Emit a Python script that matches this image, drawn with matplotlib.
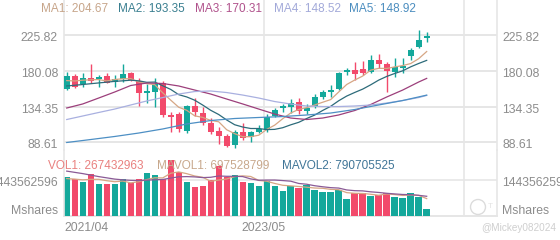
import matplotlib.pyplot as plt
from matplotlib.transforms import offset_copy
from matplotlib.patches import Ellipse

plt.rcParams['font.family'] = ['Liberation Sans', 'DejaVu Sans']

# monthly candles
opens = [156.3, 173.7, 162.7, 171.2, 169.5, 173.7, 165.3, 169.1, 177.6, 167.0,
         151.2, 153.3, 164.0, 122.9, 124.7, 103.0, 135.0, 125.6, 113.2, 103.0,
         96.6, 85.7, 101.7, 94.7, 102.1, 104.9, 122.2, 132.8, 134.1, 139.7,
         128.6, 135.0, 146.9, 152.5, 156.7, 178.1, 181.0, 182.3, 178.9, 193.8,
         188.3, 178.9, 184.0, 199.3, 210.9, 222.4]
highs = [178.9, 175.5, 176.8, 188.7, 175.0, 177.6, 174.2, 188.7, 178.5, 171.2,
         163.1, 170.4, 167.6, 126.7, 127.7, 136.9, 145.8, 134.1, 119.6, 108.5,
         99.2, 104.3, 113.2, 103.6, 110.7, 124.7, 132.0, 137.1, 143.9, 145.6,
         137.5, 149.9, 155.4, 161.8, 178.9, 184.0, 190.9, 192.6, 200.2, 201.1,
         190.9, 196.0, 196.0, 208.8, 232.2, 230.0]
lows = [155.0, 157.6, 158.9, 164.0, 159.7, 164.0, 159.7, 165.3, 167.0, 135.0,
        138.4, 133.7, 121.3, 101.7, 102.1, 100.4, 122.8, 110.7, 99.2, 87.0,
        81.9, 81.2, 92.1, 88.3, 100.0, 102.3, 120.3, 126.9, 125.6, 124.4,
        124.7, 132.8, 143.9, 146.9, 155.4, 174.6, 168.2, 174.6, 176.8, 183.2,
        153.3, 172.5, 176.8, 193.8, 208.8, 217.2]
closes = [173.4, 159.7, 171.2, 167.0, 172.5, 164.8, 169.1, 175.5, 168.2, 151.0,
          154.2, 162.7, 123.5, 120.9, 105.5, 135.0, 127.3, 113.2, 102.1, 96.6,
          83.8, 102.1, 94.0, 102.1, 105.8, 120.9, 129.9, 135.0, 138.4, 128.6,
          132.8, 146.9, 152.5, 155.4, 176.8, 181.0, 175.5, 177.6, 193.8, 188.3,
          179.8, 185.3, 186.5, 206.6, 219.4, 224.5]
# volume in millions of shares
volumes = [1552, 1496, 1363, 1672, 1271, 1271, 1295, 1496, 1311, 1496,
           1712, 1644, 1472, 2246, 1764, 1363, 1175, 1215, 1444, 2017,
           1576, 1644, 1363, 1323, 1223, 1415, 1203, 1002, 1191, 1111,
           1263, 1043, 946, 970, 1055, 670, 910, 910, 814, 854,
           942, 774, 734, 910, 774, 267.4]

ma1 = [167.5, 167.0, 168.0, 168.5, 168.8, 167.0, 168.9, 169.8, 170.0, 165.7,
       163.6, 162.3, 151.9, 142.5, 133.4, 129.5, 122.4, 120.4, 116.6, 114.8,
       104.6, 99.6, 95.7, 95.7, 97.6, 105.0, 110.5, 118.7, 126.0, 130.6,
       132.9, 136.3, 139.8, 143.2, 152.9, 162.5, 168.2, 173.3, 180.9, 183.2,
       183.0, 185.0, 186.7, 189.3, 195.5, 204.67]
ma2 = [160.6, 161.5, 162.5, 163.5, 164.5, 165.5, 166.5, 167.2, 168.0, 167.2,
       165.3, 165.6, 160.9, 156.2, 149.5, 146.6, 142.4, 136.2, 129.5, 124.1,
       117.1, 111.0, 108.1, 106.2, 106.2, 104.8, 105.1, 107.2, 110.9, 114.1,
       119.0, 123.4, 129.3, 134.6, 141.7, 147.7, 152.3, 156.6, 162.1, 168.1,
       172.8, 176.6, 180.0, 185.1, 189.4, 193.35]
ma34_idx = [0, 2, 4, 6, 8, 10, 12, 14, 16, 18, 20, 22, 24, 26, 28, 30, 32,
            34, 36, 38, 40, 42, 44, 45]
ma3 = [132.4, 137.6, 145.2, 152.9, 161.2, 164.4, 163.8, 160.6, 155.4, 150.3,
       143.9, 137.6, 131.1, 124.7, 119.6, 117.7, 119.6, 123.5, 129.2, 136.9,
       146.5, 155.4, 165.7, 170.31]
ma4 = [117.7, 122.2, 126.7, 131.1, 136.3, 141.4, 145.8, 150.3, 153.5, 154.2,
       152.2, 149.0, 145.2, 140.7, 137.5, 135.0, 134.3, 134.3, 135.0, 136.3,
       138.8, 142.0, 145.8, 148.52]
ma5_idx = [0, 3, 6, 9, 12, 15, 18, 21, 24, 27, 30, 33, 36, 39, 42, 45]
ma5 = [88.3, 92.1, 96.0, 100.4, 105.6, 112.0, 116.4, 119.0, 120.3, 121.5,
       123.5, 126.0, 130.5, 136.3, 142.0, 148.92]

mavol1 = [1500, 1480, 1450, 1470, 1471, 1415, 1374, 1401, 1329, 1374,
          1462, 1532, 1527, 1714, 1768, 1698, 1604, 1553, 1392, 1443,
          1485, 1579, 1609, 1585, 1426, 1394, 1305, 1233, 1207, 1184,
          1154, 1122, 1111, 1067, 1055, 937, 910, 903, 872, 832,
          886, 859, 824, 843, 827, 697.5]
mavol2 = [1800, 1750, 1700, 1640, 1580, 1530, 1480, 1450, 1430, 1422,
          1438, 1453, 1464, 1521, 1571, 1580, 1568, 1540, 1553, 1605,
          1592, 1592, 1581, 1488, 1434, 1440, 1442, 1421, 1396, 1305,
          1274, 1214, 1172, 1137, 1120, 1045, 1016, 1007, 969, 944,
          911, 885, 863, 857, 829, 790.7]

price_ticks = [225.82, 180.08, 134.35, 88.61]
vol_tick = 1443562596
date_pos = [-0.34, 24.66]
date_labels = ['2021/04', '2023/05']
legend_top = [('MA1: 204.67', '#c7a58a', 41), ('MA2: 193.35', '#3a7f90', 118),
              ('MA3: 170.31', '#b0528c', 195), ('MA4: 148.52', '#a2a9d9', 274),
              ('MA5: 148.92', '#4b8dbf', 349)]
legend_vol = [('VOL1: 267432963', '#e9807f', 48), ('MAVOL1: 697528799', '#c8a88c', 157),
              ('MAVOL2: 790705525', '#3f7597', 282)]

UP = '#14a89b'
DOWN = '#f24a6b'
GRID = '#e6e6e6'
LABEL = '#8c8c8c'
W, H = 560, 240

fig = plt.figure(figsize=(5.6, 2.4), dpi=100)


def box(x0, y0, x1, y1):
    return [x0 / W, 1 - y1 / H, (x1 - x0) / W, (y1 - y0) / H]


ax = fig.add_axes(box(64, 0, 497, 150))
axv = fig.add_axes(box(64, 150, 497, 216))

n = len(closes)
xs = list(range(n))
colors = [UP if c >= o else DOWN for o, c in zip(opens, closes)]

# candles
ax.vlines(xs, lows, highs, colors=colors, lw=1, zorder=2)
bottoms = [min(o, c) for o, c in zip(opens, closes)]
heights = [max(abs(c - o), 1.2) for o, c in zip(opens, closes)]
ax.bar(xs, heights, bottom=bottoms, width=0.75, color=colors, zorder=3)

ax.plot(xs, ma1, color='#d6a684', lw=0.9, zorder=4)
ax.plot(xs, ma2, color='#2d6b7a', lw=0.9, zorder=4)
ax.plot(ma34_idx, ma3, color='#9c3f7b', lw=0.9, zorder=4)
ax.plot(ma34_idx, ma4, color='#a9b0e0', lw=0.9, zorder=4)
ax.plot(ma5_idx, ma5, color='#4d8fc4', lw=0.9, zorder=4)

# volume
axv.bar(xs, [v * 1e6 for v in volumes], width=0.8, color=colors, zorder=2)
axv.plot(xs, [v * 1e6 for v in mavol1], color='#d6a684', lw=0.9, zorder=3)
axv.plot(xs, [v * 1e6 for v in mavol2], color='#8a5a96', lw=0.9, zorder=3)

ax.set_ylim(78.7, 270.6)
axv.set_ylim(0, 2.6465e9)
for a in (ax, axv):
    a.set_xlim(-0.34, 53.79)
    a.set_xticks([])
    a.set_yticks([])
    a.patch.set_alpha(0)
    for s in ('top', 'bottom'):
        a.spines[s].set_visible(False)
    for s in ('left', 'right'):
        a.spines[s].set_color(GRID)
        a.spines[s].set_linewidth(1.2)
    for xp in date_pos[1:] + [49.66]:
        a.axvline(xp, color=GRID, lw=1.2, zorder=0)

for p in price_ticks:
    ax.axhline(p, color=GRID, lw=1.4, zorder=0)
axv.axhline(vol_tick, color=GRID, lw=1.2, zorder=0)
axv.axhline(0, color=GRID, lw=1.4, zorder=0, clip_on=False)

# axis labels on both sides
lt = offset_copy(ax.get_yaxis_transform(), fig=fig, x=-6, y=-3, units='dots')
rt = offset_copy(ax.get_yaxis_transform(), fig=fig, x=5, y=-3, units='dots')
for p in price_ticks:
    ax.text(0, p, f'{p:.2f}', transform=lt, ha='right', va='center',
            fontsize=8.8, color=LABEL)
    ax.text(1, p, f'{p:.2f}', transform=rt, ha='left', va='center',
            fontsize=8.8, color=LABEL)

vlt = offset_copy(axv.get_yaxis_transform(), fig=fig, x=-6, y=-3, units='dots')
vrt = offset_copy(axv.get_yaxis_transform(), fig=fig, x=5, y=-3, units='dots')
axv.text(0, vol_tick, str(vol_tick), transform=vlt, ha='right', va='center',
         fontsize=8.8, color=LABEL, clip_on=False)
axv.text(1, vol_tick, str(vol_tick), transform=vrt, ha='left', va='center',
         fontsize=8.8, color=LABEL, clip_on=False)
mlt = offset_copy(axv.get_yaxis_transform(), fig=fig, x=-6, y=5, units='dots')
mrt = offset_copy(axv.get_yaxis_transform(), fig=fig, x=5, y=5, units='dots')
axv.text(0, 0, 'Mshares', transform=mlt, ha='right', va='center',
         fontsize=8.8, color=LABEL)
axv.text(1, 0, 'Mshares', transform=mrt, ha='left', va='center',
         fontsize=8.8, color=LABEL)

dt = offset_copy(axv.get_xaxis_transform(), fig=fig, y=-12, units='dots')
for i, (xp, lab) in enumerate(zip(date_pos, date_labels)):
    axv.text(xp, 0, lab, transform=dt, ha='left' if i == 0 else 'center',
             va='center', fontsize=8.8, color=LABEL)

# legends
for txt, col, x in legend_top:
    fig.text(x / W, 1 - 9.5 / H, txt, color=col, fontsize=8.5, va='center')
for txt, col, x in legend_vol:
    fig.text(x / W, 1 - 166 / H, txt, color=col, fontsize=8.5, va='center',
             zorder=10)

# watermark
fig.patches.append(Ellipse((478 / W, 1 - 207 / H), 15 / W, 15 / H,
                           transform=fig.transFigure, fill=False,
                           ec='#dcdcdc', lw=1))
fig.text(488 / W, 1 - 207 / H, 'T', color='#e4e4e4', fontsize=6, va='center')
fig.text(481 / W, 1 - 228 / H, '@Mickey082024', color='#cfcfcf', fontsize=7.2,
         va='center')

fig.savefig('out.png', dpi=100)
